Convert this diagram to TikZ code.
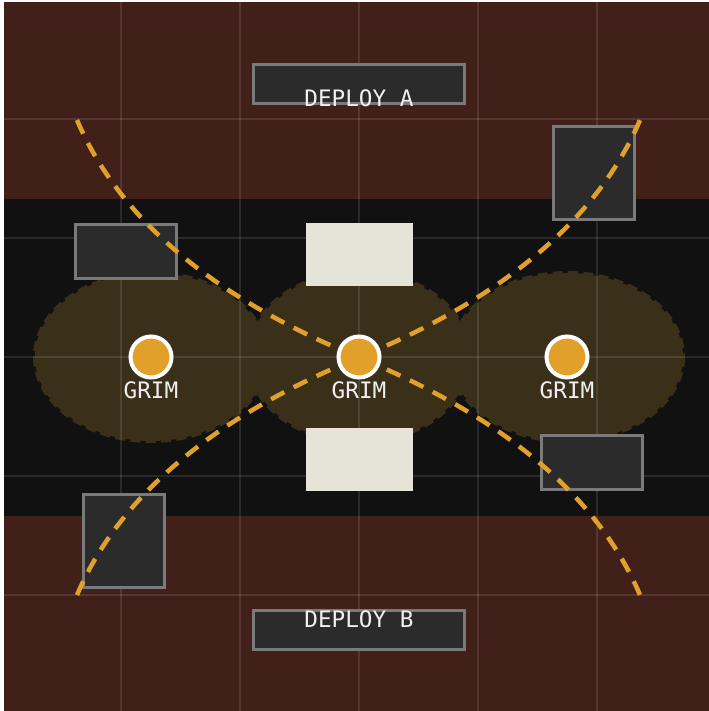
\documentclass[tikz,border=0pt]{standalone}
\usepackage{fontspec}
\newfontfamily\monofont{DejaVu Sans Mono}
\definecolor{brownband}{HTML}{42201A}
\definecolor{darkband}{HTML}{111111}
\definecolor{boxfill}{HTML}{2B2B2B}
\definecolor{boxline}{HTML}{7A7A7A}
\definecolor{lightbox}{HTML}{E6E3D9}
\definecolor{amber}{HTML}{E0A02A}
\definecolor{zone}{HTML}{3A3019}
\definecolor{txt}{HTML}{F0F0F0}
\tikzset{
  coverbox/.style={draw=boxline, fill=boxfill, line width=2.25pt, inner sep=0pt, outer sep=0pt},
  wallbox/.style={fill=lightbox, inner sep=0pt, outer sep=0pt},
  gridline/.style={white, opacity=0.1, line width=1.2pt},
  zonefill/.style={fill=zone, draw=zone, line width=3pt, dash pattern=on 7.5pt off 4pt},
  route/.style={amber, line width=3.4pt, dash pattern=on 11.25pt off 7.9pt},
  marker/.style={circle, fill=amber, draw=white, line width=3pt, minimum size=30.75pt, inner sep=0pt},
  lbl/.style={text=txt, font=\monofont\fontsize{17}{20}\selectfont, inner sep=0pt, anchor=base}
}
\begin{document}
\begin{tikzpicture}[x=0.75pt,y=-0.75pt]
\useasboundingbox (0,0) rectangle (709,711);
\fill[white] (0,0) rectangle (709,711);
% bands
\fill[brownband] (4,2) rectangle (709,199);
\fill[darkband] (4,199) rectangle (709,516);
\fill[brownband] (4,516) rectangle (709,711);
% zones
\path[zonefill] (151,357) ellipse [x radius=116, y radius=84];
\path[zonefill] (359,357) ellipse [x radius=111, y radius=85];
\path[zonefill] (567,357) ellipse [x radius=116, y radius=84];
% grid
\foreach \gx in {121,240,359,478,597} \draw[gridline] (\gx,2) -- (\gx,711);
\foreach \gy in {119,238,357,476,595} \draw[gridline] (2,\gy) -- (709,\gy);
% boxes
\node[coverbox, minimum width=158.25pt, minimum height=29.25pt] (deployA) at (359,84) {};
\node[coverbox, minimum width=158.25pt, minimum height=29.25pt] (deployB) at (359,630) {};
\node[coverbox, minimum width=75.75pt, minimum height=40.5pt] (coverTL) at (126,251.5) {};
\node[coverbox, minimum width=60.75pt, minimum height=69.75pt] (coverTR) at (594,173) {};
\node[coverbox, minimum width=60.75pt, minimum height=69.75pt] (coverBL) at (124,541) {};
\node[coverbox, minimum width=75.75pt, minimum height=40.5pt] (coverBR) at (592,462.5) {};
\node[wallbox, minimum width=80.25pt, minimum height=47.25pt] (wallT) at (359.5,254.5) {};
\node[wallbox, minimum width=80.25pt, minimum height=47.25pt] (wallB) at (359.5,459.5) {};
\node[lbl] (labelA) at (359,106) {DEPLOY A};
\node[lbl] (labelB) at (359,627) {DEPLOY B};
% routes
\draw[route] (77,120) .. controls (119,218.7) and (213,297.7) .. (359,357.5)
                      .. controls (504,417.3) and (598,496.3) .. (640,595);
\draw[route] (77,595) .. controls (119,496.3) and (213,417.3) .. (359,357.5)
                      .. controls (504,297.7) and (598,218.7) .. (640,120);
% markers
\node[marker] (g1) at (151,357) {};
\node[marker] (g2) at (359,357) {};
\node[marker] (g3) at (567,357) {};
\node[lbl] (t1) at (151,398) {GRIM};
\node[lbl] (t2) at (359,398) {GRIM};
\node[lbl] (t3) at (567,398) {GRIM};
\end{tikzpicture}
\end{document}
